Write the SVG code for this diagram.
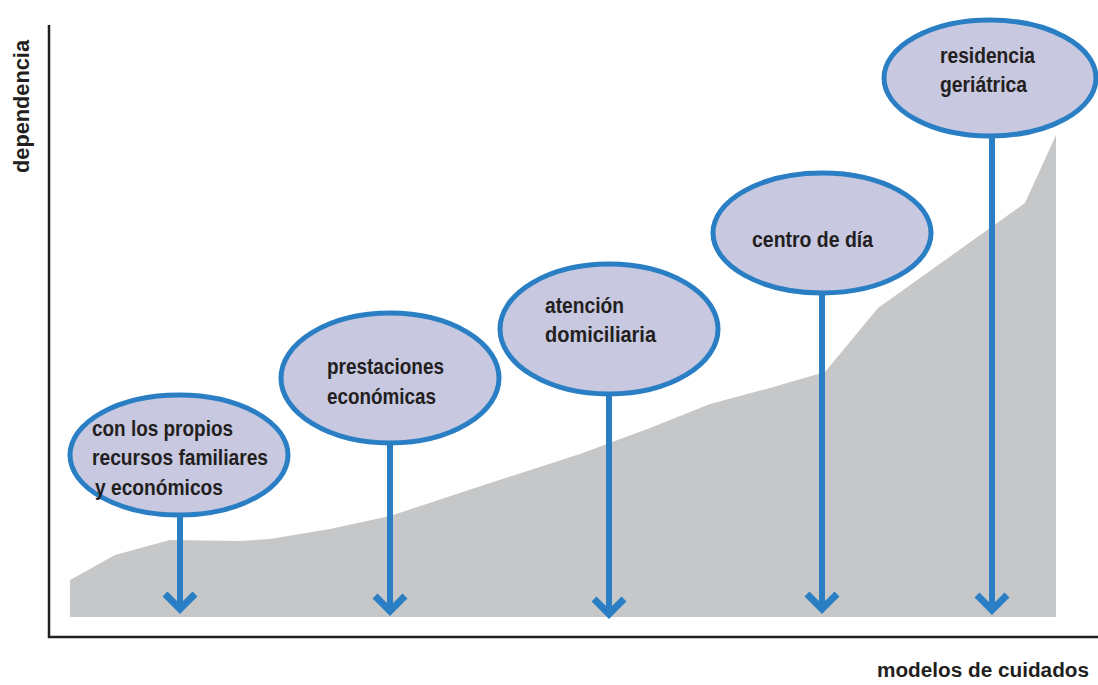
<svg xmlns="http://www.w3.org/2000/svg" width="1098" height="685" viewBox="0 0 1098 685">
<defs>
<style>
.node ellipse{fill:#c8c8e0;stroke:#2a7fc4;stroke-width:5}
.lbl{font-family:"Liberation Sans",Arial,sans-serif;font-weight:bold;font-size:22px;fill:#231f20}
.conn{stroke:#2a7fc4;stroke-width:6;fill:none}
.axis{stroke:#231f20;stroke-width:2.5;fill:none}
</style>
<marker id="chev" markerUnits="userSpaceOnUse" viewBox="-20 -20 24 40" markerWidth="24" markerHeight="40" refX="0" refY="0" orient="auto" overflow="visible">
<path d="M-15,-15 L0,0 L-15,15" stroke="#2a7fc4" stroke-width="7" fill="none" stroke-linecap="butt"/>
</marker>
</defs>
<rect width="1098" height="685" fill="#ffffff"/>
<polygon id="area" fill="#c6c7c9" points="70,580 115,555 170,540 240,541 270,539 330,529 390,516 490,483 580,454 650,428 710,404 770,388 825,372 878,308 1025,203 1056,135 1056,617 70,617"/>
<g id="axes">
<path class="axis" d="M49,25 V637 H1098"/>
<text class="lbl" transform="translate(29,173) rotate(-90)" textLength="133" lengthAdjust="spacingAndGlyphs">dependencia</text>
<text class="lbl" x="877" y="677" style="font-size:20px" textLength="212" lengthAdjust="spacingAndGlyphs">modelos de cuidados</text>
</g>
<g id="connectors">
<path class="conn" d="M180,517 V609" marker-end="url(#chev)"/>
<path class="conn" d="M390,445 V611" marker-end="url(#chev)"/>
<path class="conn" d="M609,396 V614" marker-end="url(#chev)"/>
<path class="conn" d="M822,295 V609" marker-end="url(#chev)"/>
<path class="conn" d="M992,138 V610" marker-end="url(#chev)"/>
</g>
<g id="n1" class="node">
<ellipse cx="179" cy="455" rx="109" ry="60"/>
<text class="lbl" x="92" y="436" textLength="141" lengthAdjust="spacingAndGlyphs">con los propios</text>
<text class="lbl" x="92" y="465" textLength="176" lengthAdjust="spacingAndGlyphs">recursos familiares</text>
<text class="lbl" x="95" y="495" textLength="128" lengthAdjust="spacingAndGlyphs">y económicos</text>
</g>
<g id="n2" class="node">
<ellipse cx="390" cy="378" rx="109" ry="65"/>
<text class="lbl" x="327" y="374" textLength="117" lengthAdjust="spacingAndGlyphs">prestaciones</text>
<text class="lbl" x="327" y="404" textLength="109" lengthAdjust="spacingAndGlyphs">económicas</text>
</g>
<g id="n3" class="node">
<ellipse cx="609" cy="329" rx="109" ry="65"/>
<text class="lbl" x="545" y="313" textLength="79" lengthAdjust="spacingAndGlyphs">atención</text>
<text class="lbl" x="545" y="342" textLength="111" lengthAdjust="spacingAndGlyphs">domiciliaria</text>
</g>
<g id="n4" class="node">
<ellipse cx="822" cy="233" rx="109" ry="60"/>
<text class="lbl" x="752" y="247" textLength="121" lengthAdjust="spacingAndGlyphs">centro de día</text>
</g>
<g id="n5" class="node">
<ellipse cx="990" cy="78" rx="106" ry="58"/>
<text class="lbl" x="940" y="63" textLength="95" lengthAdjust="spacingAndGlyphs">residencia</text>
<text class="lbl" x="940" y="92" textLength="87" lengthAdjust="spacingAndGlyphs">geriátrica</text>
</g>
</svg>
